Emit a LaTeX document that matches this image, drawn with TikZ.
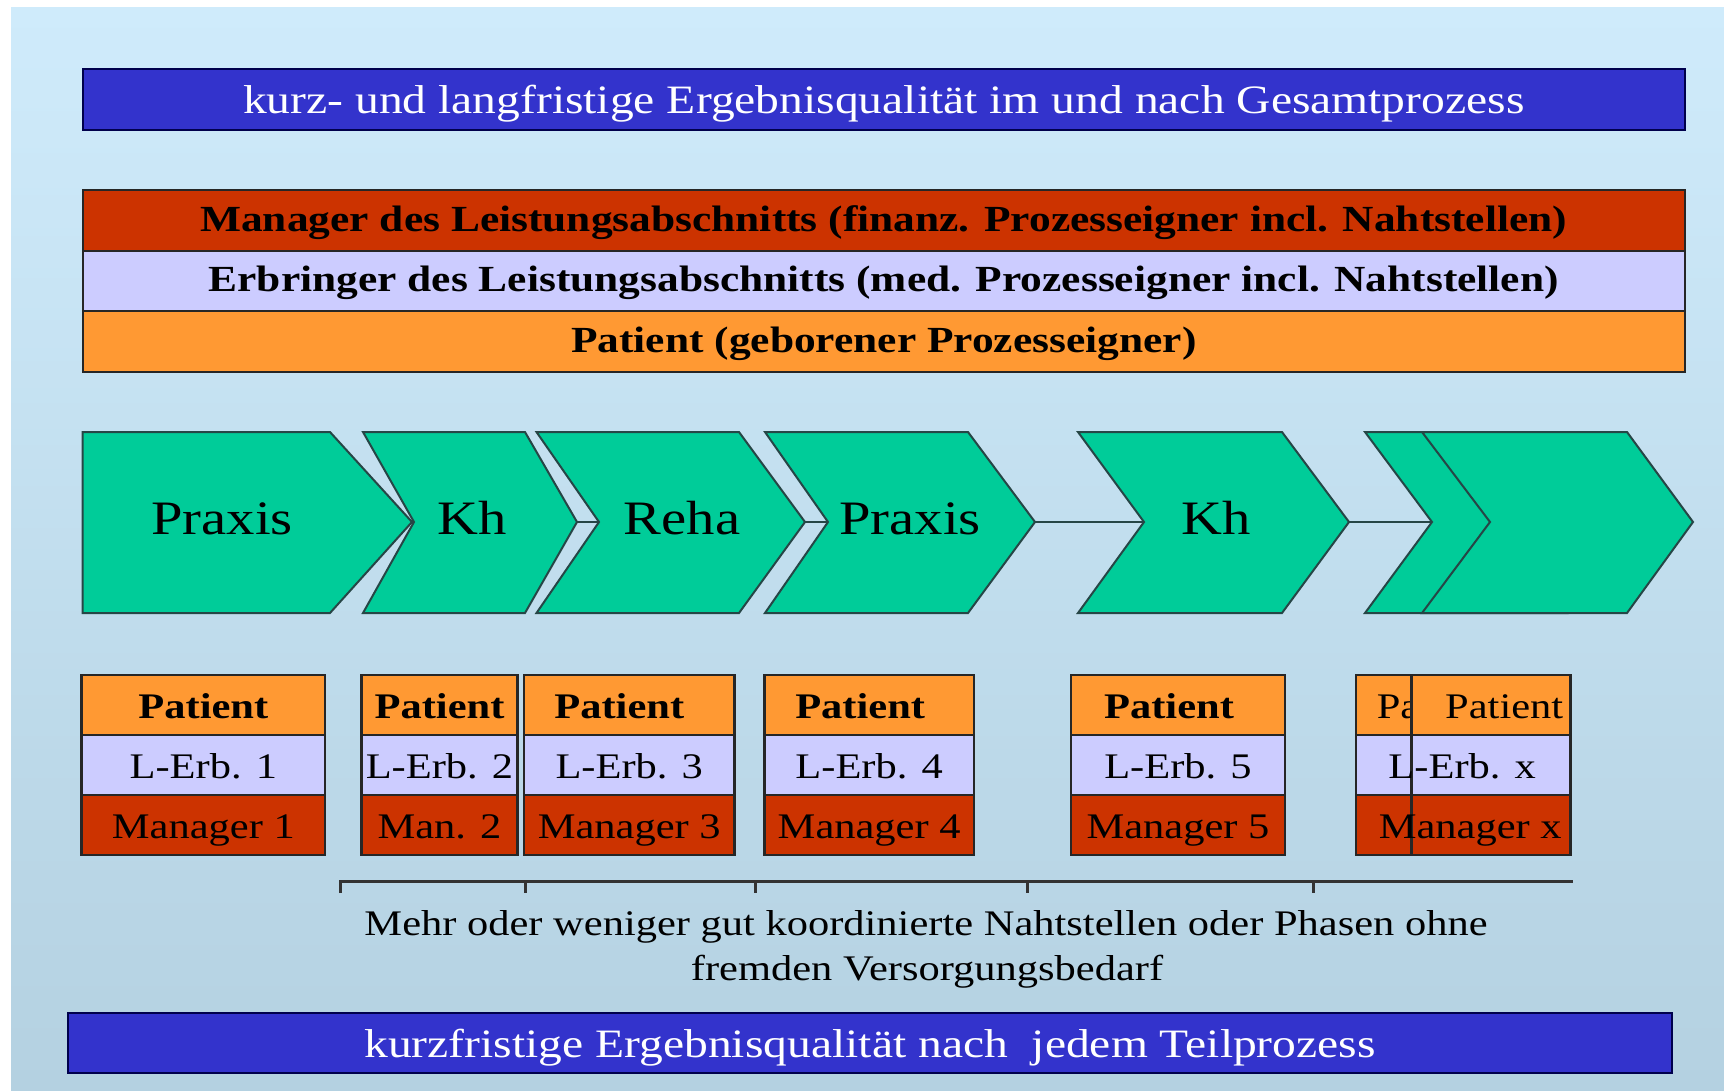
\documentclass[tikz,border=0pt]{standalone}
\usepackage{fontspec}
\setmainfont{Liberation Serif}[FakeStretch=1.18]

\definecolor{barblue}{RGB}{51,51,204}
\definecolor{mgrred}{RGB}{204,51,0}
\definecolor{erblila}{RGB}{204,204,255}
\definecolor{patorange}{RGB}{255,153,51}
\definecolor{chevgreen}{RGB}{0,204,153}
\definecolor{chevline}{RGB}{38,70,70}
\definecolor{bgtop}{RGB}{207,235,251}
\definecolor{bgbottom}{RGB}{180,209,225}

% one process step: name, left x, notch x, top-right x, tip x
\newcommand{\chevshape}[5]{%
  \draw[chev] (#2,432) -- (#4,432) -- (#5,522) -- (#4,613) -- (#2,613) -- (#3,522) -- cycle;
  \coordinate (#1-notch) at (#3,522);
  \coordinate (#1-tip) at (#5,522);
}

\begin{document}
\begin{tikzpicture}[x=1pt,y=-1pt,
  widebar/.style={draw=black!85, line width=2pt, inner sep=0pt,
    minimum width=1602.5pt, minimum height=60.5pt},
  bluebar/.style={widebar, fill=barblue, draw=black!70!blue, text=white,
    font=\fontsize{40.3}{48}\selectfont, text height=28pt, text depth=0pt},
  rolebar/.style={widebar, font=\bfseries\fontsize{36.8}{44}\selectfont,
    text height=22pt, text depth=0pt},
  chev/.style={fill=chevgreen, draw=chevline, line width=2pt, line join=miter},
  joint/.style={draw=chevline, line width=2pt},
  steplabel/.style={anchor=base, inner sep=0pt, font=\fontsize{48}{56}\selectfont},
  cell/.style={draw=black!85, line width=2.5pt, inner sep=0pt, minimum height=60pt,
    text height=26pt, text depth=0pt, font=\fontsize{36}{43}\selectfont},
  pat/.style={cell, fill=patorange, font=\bfseries\fontsize{36}{43}\selectfont},
  patreg/.style={cell, fill=patorange},
  erb/.style={cell, fill=erblila},
  mgr/.style={cell, fill=mgrred},
  tshift/.style={execute at begin node={\kern#1pt}},
  bracket/.style={draw=black!80, line width=3pt},
  note/.style={anchor=base, inner sep=0pt, font=\fontsize{36}{45}\selectfont}
]
\useasboundingbox (0,0) rectangle (1724,1090);
\fill[white] (0,0) rectangle (1724,1090);
\shade[top color=bgtop, bottom color=bgbottom] (11,7) rectangle (1724,1090);

% overall outcome and the three owners of the process
\node[bluebar] (overall) at (883.75,99.5)
  {kurz- und langfristige Ergebnisqualität im und nach Gesamtprozess};
\node[rolebar, fill=mgrred] (mgrbar) at (883.75,220.25)
  {Manager des Leistungsabschnitts (finanz. Prozesseigner incl. Nahtstellen)};
\node[rolebar, fill=erblila] (erbbar) at (883.75,280.75)
  {Erbringer des Leistungsabschnitts (med. Prozesseigner incl. Nahtstellen)};
\node[rolebar, fill=patorange] (patbar) at (883.75,341.25)
  {Patient (geborener Prozesseigner)};

% process chain
\chevshape{c1}{82.5}{82.5}{330}{412}
\chevshape{c2}{363}{414}{525}{577}
\chevshape{c3}{536.5}{599}{739}{805}
\chevshape{c4}{765}{828}{968}{1035}
\chevshape{c5}{1078}{1144}{1282}{1349}
\chevshape{c6}{1365}{1432}{1568}{1635}
\chevshape{c7}{1422}{1490}{1627}{1693}

\draw[joint] (c1-tip) -- (c2-notch);
\draw[joint] (c2-tip) -- (c3-notch);
\draw[joint] (c3-tip) -- (c4-notch);
\draw[joint] (c4-tip) -- (c5-notch);
\draw[joint] (c5-tip) -- (c6-notch);

\node[steplabel] (l1) at (222,534) {Praxis};
\node[steplabel] (l2) at (472.5,534) {Kh};
\node[steplabel] (l3) at (682,534) {Reha};
\node[steplabel] (l4) at (910,534) {Praxis};
\node[steplabel] (l5) at (1216,534) {Kh};

% responsibilities per step
\node[pat, minimum width=243.3pt] (p1) at (203.35,705) {Patient};
\node[erb, minimum width=243.3pt] (e1) at (203.35,765) {L-Erb. 1};
\node[mgr, minimum width=243.3pt] (m1) at (203.35,825) {Manager 1};

\node[pat, minimum width=155.6pt] (p2) at (439.5,705) {Patient};
\node[erb, minimum width=155.6pt] (e2) at (439.5,765) {L-Erb. 2};
\node[mgr, minimum width=155.6pt] (m2) at (439.5,825) {Man. 2};

\node[pat, minimum width=210.5pt, tshift=-20] (p3) at (629.25,705) {Patient};
\node[erb, minimum width=210.5pt] (e3) at (629.25,765) {L-Erb. 3};
\node[mgr, minimum width=210.5pt] (m3) at (629.25,825) {Manager 3};

\node[pat, minimum width=209.7pt, tshift=-18] (p4) at (869.15,705) {Patient};
\node[erb, minimum width=209.7pt] (e4) at (869.15,765) {L-Erb. 4};
\node[mgr, minimum width=209.7pt] (m4) at (869.15,825) {Manager 4};

\node[pat, minimum width=214pt, tshift=-18] (p5) at (1178,705) {Patient};
\node[erb, minimum width=214pt] (e5) at (1178,765) {L-Erb. 5};
\node[mgr, minimum width=214pt] (m5) at (1178,825) {Manager 5};

% a further step, partly hidden behind the last one
\node[patreg, minimum width=159pt, tshift=-75] (p6) at (1435.5,705) {Pa};
\node[erb, minimum width=159pt] (e6) at (1435.5,765) {};
\node[mgr, minimum width=159pt] (m6) at (1435.5,825) {};

\node[patreg, minimum width=159pt, tshift=26] (p7) at (1491.2,705) {Patient};
\node[erb, minimum width=159pt, tshift=-58] (e7) at (1491.2,765) {L-Erb. x};
\node[mgr, minimum width=159pt, tshift=-42] (m7) at (1491.2,825) {Manager x};

% interfaces between the steps
\draw[bracket] (340,893) -- (340,881) -- (1573,881);
\foreach \tx in {525,755,1027,1313}
  \draw[bracket] (\tx,881) -- (\tx,893);
\node[note] (note1) at (926,935)
  {Mehr oder weniger gut koordinierte Nahtstellen oder Phasen ohne};
\node[note] (note2) at (927,980) {fremden Versorgungsbedarf};

% outcome of each partial process
\node[bluebar, minimum width=1604pt] (partial) at (870,1043)
  {kurzfristige Ergebnisqualität nach~ jedem Teilprozess};
\end{tikzpicture}
\end{document}
